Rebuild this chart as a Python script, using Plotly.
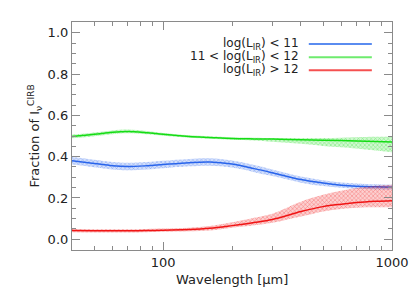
import plotly.graph_objects as go
import numpy as np

# Data
wavelength = [40, 50, 60, 70, 85, 100, 130, 160, 200, 250, 300, 400, 500, 600, 700, 850, 1000]

green_mid = [0.498, 0.508, 0.518, 0.522, 0.516, 0.508, 0.498, 0.493, 0.488, 0.486, 0.485, 0.482, 0.480, 0.478, 0.476, 0.473, 0.471]
green_lo  = [0.489, 0.499, 0.509, 0.513, 0.508, 0.501, 0.492, 0.487, 0.482, 0.478, 0.472, 0.462, 0.452, 0.446, 0.440, 0.430, 0.421]
green_hi  = [0.507, 0.517, 0.527, 0.531, 0.524, 0.515, 0.504, 0.499, 0.494, 0.492, 0.490, 0.490, 0.490, 0.492, 0.494, 0.496, 0.498]

blue_mid = [0.380, 0.367, 0.356, 0.352, 0.356, 0.362, 0.371, 0.374, 0.364, 0.342, 0.322, 0.289, 0.272, 0.262, 0.257, 0.254, 0.252]
blue_lo  = [0.362, 0.349, 0.338, 0.334, 0.338, 0.344, 0.353, 0.356, 0.347, 0.325, 0.306, 0.274, 0.258, 0.249, 0.244, 0.241, 0.240]
blue_hi  = [0.398, 0.385, 0.374, 0.370, 0.374, 0.380, 0.389, 0.392, 0.381, 0.359, 0.338, 0.304, 0.286, 0.275, 0.270, 0.266, 0.264]

red_mid = [0.042, 0.041, 0.041, 0.041, 0.042, 0.044, 0.047, 0.053, 0.066, 0.081, 0.096, 0.134, 0.158, 0.170, 0.178, 0.184, 0.187]
red_lo  = [0.034, 0.033, 0.033, 0.033, 0.034, 0.036, 0.039, 0.043, 0.056, 0.068, 0.080, 0.110, 0.135, 0.147, 0.153, 0.155, 0.155]
red_hi  = [0.050, 0.049, 0.049, 0.049, 0.050, 0.052, 0.056, 0.064, 0.082, 0.104, 0.124, 0.182, 0.215, 0.235, 0.248, 0.259, 0.264]

series = [
    ("log(L<sub>IR</sub>) < 11", blue_mid, blue_lo, blue_hi, (40, 100, 235), "rgb(90,140,240)"),
    ("11 < log(L<sub>IR</sub>) < 12", green_mid, green_lo, green_hi, (20, 220, 20), "rgb(110,235,110)"),
    ("log(L<sub>IR</sub>) > 12", red_mid, red_lo, red_hi, (240, 20, 20), "rgb(245,80,80)"),
]

x_title = "Wavelength [μm]"
y_title = "Fraction of I<sub>ν</sub><sup>CIRB</sup>"

FONT = "DejaVu Sans, Verdana, sans-serif"

fig = go.Figure()
for name, mid, lo, hi, c, lcol in series:
    col = "rgb(%d,%d,%d)" % c
    fig.add_trace(go.Scatter(x=wavelength, y=lo, mode="lines", line=dict(width=0, shape="spline"),
                             showlegend=False, hoverinfo="skip"))
    fig.add_trace(go.Scatter(x=wavelength, y=hi, mode="lines", line=dict(width=0, shape="spline"),
                             fill="tonexty", fillcolor="rgba(%d,%d,%d,0.2)" % c,
                             fillpattern=dict(shape="x", fgcolor=col, bgcolor="rgba(%d,%d,%d,0.2)" % c,
                                              size=3, solidity=0.3, fillmode="overlay"),
                             showlegend=False, hoverinfo="skip"))
    fig.add_trace(go.Scatter(x=wavelength, y=mid, mode="lines", line=dict(color=col, width=1.5, shape="spline"),
                             name=name, showlegend=False))

# legend drawn as annotations + short lines (text left of line like IDL)
ys = [0.903, 0.845, 0.788]
for (name, mid, lo, hi, c, lcol), yy in zip(series, ys):
    fig.add_annotation(x=0.712, y=yy, xref="paper", yref="paper", text=name, showarrow=False,
                       xanchor="right", yanchor="middle", borderpad=0,
                       font=dict(size=12, color="#222", family=FONT))
    fig.add_shape(type="line", xref="paper", yref="paper", x0=0.74, x1=0.937, y0=yy, y1=yy,
                  line=dict(color=lcol, width=2))

# axis titles
fig.add_annotation(x=0.5, y=-0.13, xref="paper", yref="paper", text=x_title, showarrow=False,
                   xanchor="center", yanchor="middle", font=dict(size=13, color="#222", family=FONT))
fig.add_annotation(x=-0.117, y=0.5, xref="paper", yref="paper", text=y_title, showarrow=False,
                   textangle=-90, xanchor="center", yanchor="middle", font=dict(size=13, color="#222", family=FONT))

minor_x = [50, 60, 70, 80, 90, 200, 300, 400, 500, 600, 700, 800, 900]

axis_common = dict(showline=True, linecolor="#8a8a8a", linewidth=1.2, mirror="allticks",
                   ticks="inside", tickcolor="#8a8a8a", showgrid=False, zeroline=False,
                   automargin=False, tickfont=dict(size=13, color="#222", family=FONT))

fig.update_xaxes(type="log", range=[np.log10(40), 3], tickmode="array", tickvals=[100, 1000],
                 ticktext=["100", "1000"], ticklen=8,
                 minor=dict(tickmode="array", tickvals=minor_x, ticklen=4, ticks="inside", tickcolor="#8a8a8a"),
                 **axis_common)
fig.update_yaxes(range=[-0.052, 1.052], tickmode="array", tickvals=[0, 0.2, 0.4, 0.6, 0.8, 1.0],
                 ticktext=["0.0", "0.2", "0.4", "0.6", "0.8", "1.0"], ticklen=8,
                 minor=dict(dtick=0.05, tick0=0, ticklen=4, ticks="inside", tickcolor="#8a8a8a"),
                 **axis_common)

fig.update_layout(width=414, height=296, margin=dict(l=72, r=22, t=22, b=46, autoexpand=False),
                  plot_bgcolor="white", paper_bgcolor="white",
                  font=dict(family=FONT, size=13, color="#222"))

fig.write_html("out.html", config={"displayModeBar": False},
               post_script="document.body.style.margin='0';")
